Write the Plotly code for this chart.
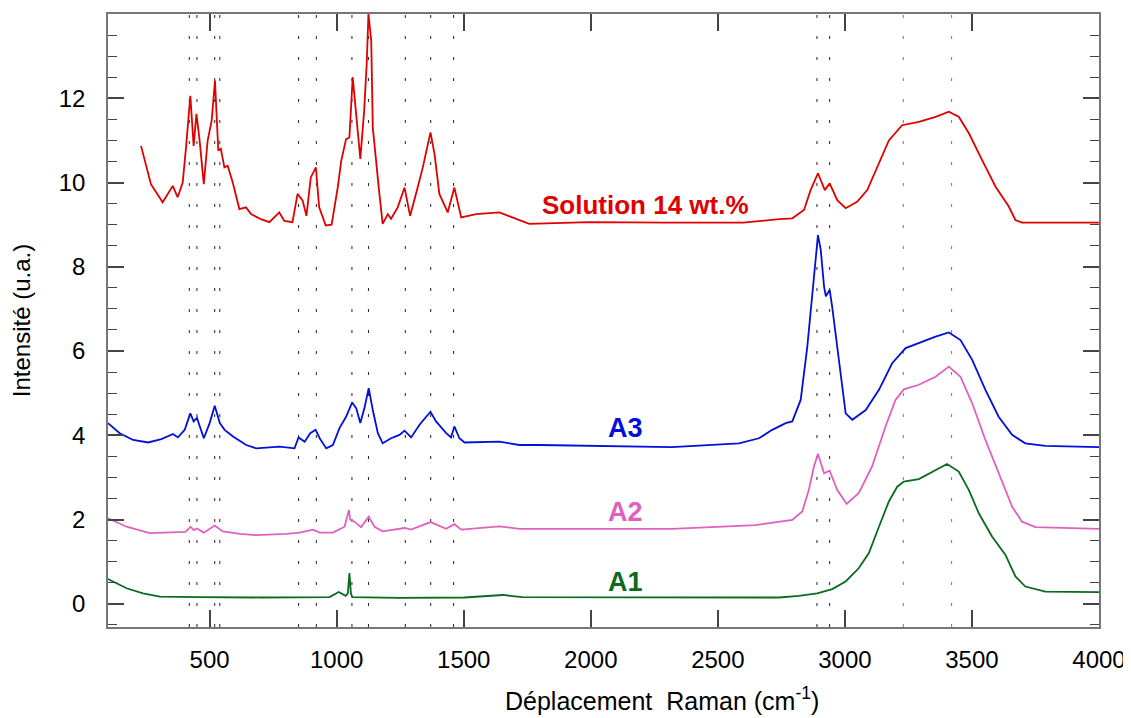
import plotly.graph_objects as go

# ---------------- data ----------------
red_x = [230, 269, 315, 355, 374, 394, 407, 424, 437, 448, 460, 477, 492, 508, 521, 534, 544, 558,
         571, 591, 617, 643, 663, 702, 735, 774, 794, 826, 846, 866, 881, 898, 918, 931, 957, 980,
         1004, 1018, 1037, 1050, 1063, 1079, 1093, 1108, 1118, 1125, 1136, 1142, 1155, 1168, 1181,
         1201, 1214, 1240, 1267, 1289, 1315, 1339, 1369, 1385, 1404, 1437, 1463, 1490, 1549, 1640,
         1758, 1994, 2300, 2600, 2741, 2793, 2839, 2865, 2894, 2921, 2940, 2970, 3003, 3048, 3088,
         3134, 3173, 3225, 3291, 3357, 3409, 3448, 3488, 3540, 3593, 3645, 3671, 3697, 4000]
red_y = [10.87, 9.96, 9.53, 9.92, 9.65, 10.0, 10.83, 12.06, 10.87, 11.63, 11.03, 9.96, 10.99, 11.47,
         12.42, 10.76, 10.8, 10.36, 10.4, 10.0, 9.37, 9.41, 9.25, 9.13, 9.06, 9.29, 9.09, 9.06, 9.73,
         9.57, 9.21, 10.12, 10.36, 9.41, 8.98, 9.0, 9.88, 10.52, 11.03, 11.07, 12.5, 11.39, 10.56,
         11.7, 12.81, 14.0, 13.36, 11.31, 10.44, 9.73, 9.02, 9.25, 9.14, 9.41, 9.88, 9.21, 9.8, 10.36,
         11.19, 10.68, 9.73, 9.29, 9.88, 9.17, 9.25, 9.29, 9.02, 9.06, 9.05, 9.05, 9.13, 9.15, 9.35,
         9.82, 10.22, 9.82, 9.98, 9.58, 9.39, 9.54, 9.82, 10.46, 11.0, 11.36, 11.44, 11.56, 11.68,
         11.56, 11.17, 10.53, 9.9, 9.43, 9.11, 9.05, 9.05]

blue_x = [100, 146, 199, 258, 310, 356, 375, 402, 424, 437, 450, 477, 500, 520, 540, 559, 592, 644,
          684, 775, 834, 850, 874, 896, 917, 933, 959, 985, 1011, 1037, 1061, 1077, 1093, 1109, 1126,
          1142, 1162, 1181, 1214, 1247, 1267, 1293, 1326, 1369, 1391, 1431, 1450, 1463, 1483, 1503,
          1640, 1719, 1797, 2320, 2583, 2662, 2714, 2767, 2793, 2826, 2852, 2872, 2885, 2894, 2905,
          2918, 2925, 2940, 2950, 2966, 2983, 3003, 3029, 3082, 3134, 3186, 3239, 3304, 3357, 3409,
          3455, 3501, 3553, 3605, 3658, 3710, 3789, 4000]
blue_y = [4.29, 4.05, 3.89, 3.83, 3.91, 4.03, 3.95, 4.13, 4.52, 4.33, 4.41, 3.93, 4.29, 4.70, 4.29,
          4.13, 3.97, 3.77, 3.69, 3.73, 3.69, 3.95, 3.85, 4.05, 4.13, 3.93, 3.69, 3.77, 4.17, 4.44,
          4.78, 4.64, 4.29, 4.64, 5.12, 4.6, 4.05, 3.81, 3.93, 4.01, 4.11, 3.95, 4.25, 4.56, 4.33,
          4.05, 3.95, 4.21, 3.93, 3.83, 3.85, 3.77, 3.77, 3.72, 3.81, 3.93, 4.13, 4.29, 4.33, 4.84,
          6.1, 7.37, 8.32, 8.75, 8.4, 7.53, 7.3, 7.45, 7.05, 6.26, 5.39, 4.52, 4.37, 4.6, 5.08, 5.71,
          6.07, 6.22, 6.34, 6.44, 6.26, 5.79, 5.08, 4.44, 4.01, 3.81, 3.75, 3.72]

pink_x = [100, 173, 264, 356, 405, 425, 437, 450, 477, 520, 552, 618, 684, 802, 854, 906, 933, 985,
          1031, 1048, 1053, 1070, 1096, 1126, 1149, 1181, 1267, 1293, 1369, 1431, 1463, 1490, 1640,
          1720, 2320, 2650, 2741, 2793, 2832, 2858, 2878, 2894, 2918, 2940, 2970, 3007, 3055, 3107,
          3160, 3199, 3232, 3291, 3357, 3409, 3455, 3501, 3553, 3605, 3658, 3697, 3750, 4000]
pink_y = [2.03, 1.83, 1.68, 1.69, 1.71, 1.83, 1.75, 1.79, 1.69, 1.86, 1.72, 1.66, 1.63, 1.66, 1.69,
          1.76, 1.69, 1.69, 1.83, 2.23, 2.0, 1.95, 1.82, 2.07, 1.83, 1.72, 1.8, 1.76, 1.94, 1.78, 1.89,
          1.76, 1.84, 1.78, 1.78, 1.87, 1.95, 1.99, 2.19, 2.70, 3.26, 3.56, 3.1, 3.16, 2.7, 2.37, 2.63,
          3.26, 4.21, 4.84, 5.09, 5.2, 5.39, 5.63, 5.39, 4.76, 3.89, 3.1, 2.31, 1.95, 1.82, 1.78]

green_x = [100, 173, 238, 304, 461, 700, 972, 1008, 1035, 1044, 1050, 1056, 1061, 1247, 1503, 1653,
           1730, 2300, 2741, 2819, 2891, 2950, 3003, 3055, 3094, 3134, 3173, 3206, 3232, 3291, 3357,
           3402, 3448, 3488, 3527, 3579, 3632, 3671, 3710, 3789, 4000]
green_y = [0.59, 0.37, 0.25, 0.17, 0.16, 0.15, 0.16, 0.28, 0.19, 0.25, 0.73, 0.25, 0.16, 0.14, 0.15,
           0.21, 0.16, 0.15, 0.15, 0.19, 0.25, 0.35, 0.53, 0.85, 1.2, 1.83, 2.43, 2.78, 2.9, 2.96,
           3.18, 3.32, 3.14, 2.7, 2.15, 1.6, 1.16, 0.65, 0.41, 0.29, 0.28]

band_positions = [420, 450, 520, 540, 850, 920, 1060, 1125, 1270, 1370, 1460, 2890, 2940, 3230, 3420]

y_tick_values = [0, 2, 4, 6, 8, 10, 12]
x_tick_values = [500, 1000, 1500, 2000, 2500, 3000, 3500, 4000]

labels = ["Solution 14 wt.%", "A3", "A2", "A1"]
label_x = [2214, 2138, 2138, 2138]
label_y = [9.47, 4.17, 2.19, 0.53]

colors = ["#e00000", "#0010d8", "#e060c0", "#0a6a1e"]

x_title = "Déplacement&nbsp; Raman (cm<sup>-1</sup>)"
y_title = "Intensité (u.a.)"

# ---------------- figure ----------------
fig = go.Figure()
series = [(red_x, red_y), (blue_x, blue_y), (pink_x, pink_y), (green_x, green_y)]
for (xs, ys), c, name in zip(series, colors, labels):
    fig.add_trace(go.Scatter(x=xs, y=ys, mode="lines", name=name,
                             line=dict(color=c, width=1.8), showlegend=False))

for b in band_positions:
    fig.add_shape(type="line", xref="x", yref="paper", x0=b, x1=b, y0=0, y1=1,
                  line=dict(color="#222" if b < 3000 else "#777", width=1, dash="3px,18px"),
                  layer="below")

for t, x, y, c in zip(labels, label_x, label_y, colors):
    fig.add_annotation(x=x, y=y, text="<b>%s</b>" % t, showarrow=False,
                       font=dict(family="Liberation Sans, Arial", size=26 if len(t) > 2 else 27,
                                 color=c))

# x axis title placed as in the reference (off-centre to the right)
fig.add_annotation(xref="paper", yref="paper", x=0.559, y=-0.118, xanchor="center",
                   yanchor="middle", text=x_title, showarrow=False,
                   font=dict(family="Liberation Sans, Arial", size=25, color="black"))

# the page body adds an 8px margin, so the figure is 8px smaller and margins shifted accordingly
fig.update_layout(
    width=1123, height=710,
    margin=dict(l=100, r=32, t=6, b=91, autoexpand=False),
    plot_bgcolor="white", paper_bgcolor="white",
    font=dict(family="Liberation Sans, Arial", size=24, color="black"),
    xaxis=dict(range=[100, 4000], tickvals=x_tick_values, ticks="inside", ticklen=17,
               tickcolor="#444", tickwidth=1.5, showline=True, linecolor="#777", linewidth=1.5,
               mirror="ticks", showgrid=False, zeroline=False, ticklabelstandoff=10,
               automargin=False),
    yaxis=dict(range=[-0.55, 14.0], tickvals=y_tick_values, ticks="inside", ticklen=16,
               tickcolor="#444", tickwidth=1.5, showline=True, linecolor="#777", linewidth=1.5,
               mirror="ticks", showgrid=False, zeroline=False, ticklabelstandoff=16,
               automargin=False,
               minor=dict(dtick=0.5, tick0=0, ticks="inside", ticklen=9, tickcolor="#444",
                          tickwidth=1.2, showgrid=False),
               title=dict(text=y_title, standoff=22, font=dict(size=24))),
)

fig.write_html("out.html")
